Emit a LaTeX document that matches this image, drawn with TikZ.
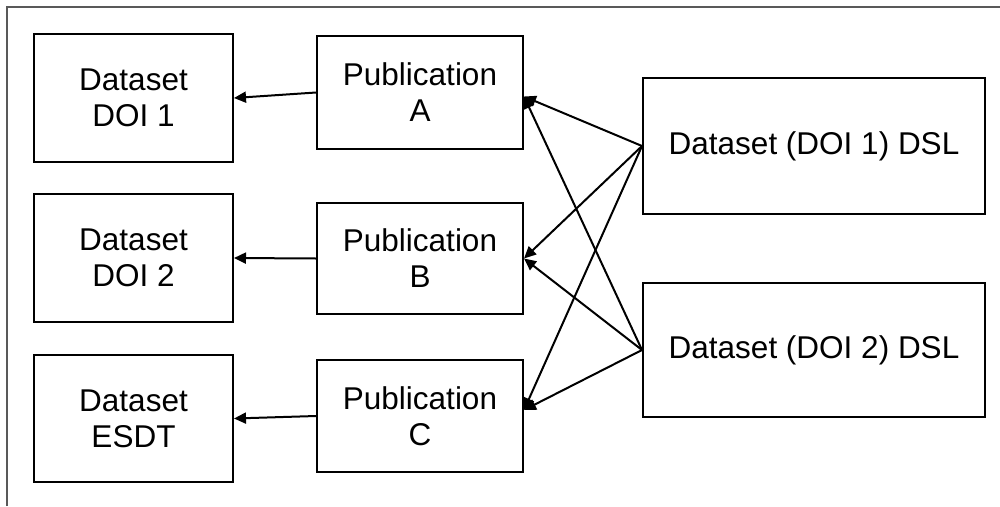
\documentclass[tikz,border=0pt]{standalone}
\usepackage{fontspec}
\setmainfont{Liberation Sans}
\usetikzlibrary{arrows.meta}
\begin{document}
\begin{tikzpicture}[x=1pt,y=-1pt,
  box/.style={draw=black, line width=2pt, fill=white, inner sep=0pt, align=center,
    font=\fontsize{31.5}{36}\selectfont},
  link/.style={line width=2pt, -{Triangle[length=12pt,width=11pt]}},
  frameline/.style={draw=black!65, line width=2pt}]
  \useasboundingbox (0,0) rectangle (1000,506);
  % outer frame (left and top edges)
  \draw[frameline] (7,506) -- (7,7) -- (1000,7);

  % datasets
  \node[box, minimum width=199pt, minimum height=128pt] (d1) at (133.5,98) {Dataset\\DOI 1};
  \node[box, minimum width=199pt, minimum height=128pt] (d2) at (133.5,258) {Dataset\\DOI 2};
  \node[box, minimum width=199pt, minimum height=127pt] (d3) at (133.5,418.5) {Dataset\\ESDT};

  % publications
  \node[box, minimum width=206pt, minimum height=113pt] (pa) at (420,92.5) {Publication\\A};
  \node[box, minimum width=206pt, minimum height=111pt] (pb) at (420,258.5) {Publication\\B};
  \node[box, minimum width=206pt, minimum height=112pt] (pc) at (420,416) {Publication\\C};

  % dataset landing pages
  \node[box, minimum width=342pt, minimum height=136pt] (s1) at (814,146) {Dataset (DOI 1) DSL};
  \node[box, minimum width=342pt, minimum height=134pt] (s2) at (814,350) {Dataset (DOI 2) DSL};

  % publications cite datasets
  \draw[link] (pa.west) -- (d1.east);
  \draw[link] (pb.west) -- (d2.east);
  \draw[link] (pc.west) -- (d3.east);

  % landing pages point to publications
  \draw[link] (s1.west) -- ([yshift=-4pt]pa.east);
  \draw[link] (s1.west) -- (pb.east);
  \draw[link] (s1.west) -- ([yshift=6pt]pc.east);
  \draw[link] (s2.west) -- ([yshift=-4pt]pa.east);
  \draw[link] (s2.west) -- (pb.east);
  \draw[link] (s2.west) -- ([yshift=6pt]pc.east);
\end{tikzpicture}
\end{document}
